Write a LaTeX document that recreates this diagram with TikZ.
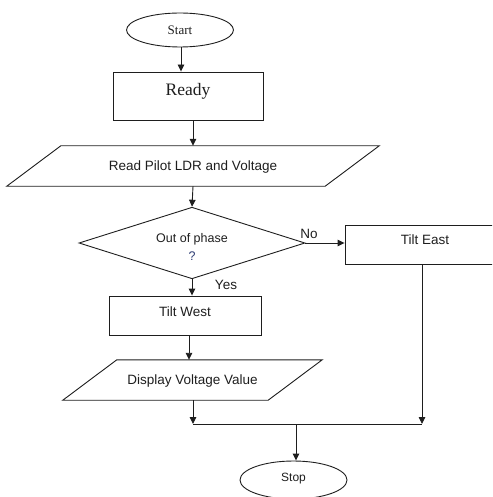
\documentclass[tikz,border=0pt]{standalone}
\usepackage{fontspec}
\setmainfont{Liberation Sans}
\newfontfamily\seriffont{Liberation Serif}
\usetikzlibrary{shapes.geometric,arrows.meta}
\definecolor{ink}{RGB}{30,30,30}
\definecolor{qblue}{RGB}{45,60,115}
\newcommand{\rb}[2]{\raisebox{#1}[0pt][0pt]{#2}}
\tikzset{
  line/.style={draw=ink,line width=0.9pt},
  arr/.style={line,-{Triangle[length=7pt,width=6.5pt]}},
  box/.style={draw=ink,line width=0.9pt,rectangle,inner sep=0pt,text=ink,font=\fontsize{13.5}{16}\selectfont},
  term/.style={draw=ink,line width=0.9pt,ellipse,inner sep=0pt,text=ink},
  pbox/.style={rectangle,inner sep=0pt,text=ink,font=\fontsize{13.5}{16}\selectfont},
  dec/.style={draw=ink,line width=0.9pt,diamond,inner sep=0pt,text=ink,font=\fontsize{12.5}{16}\selectfont},
  lbl/.style={inner sep=0pt,text=ink,font=\fontsize{13.5}{16}\selectfont},
}
\begin{document}
\begin{tikzpicture}[x=1pt,y=-1pt]
\useasboundingbox (0,0) rectangle (492,497);
\clip (0,0) rectangle (492,497);
% nodes
\node[term,minimum width=107pt,minimum height=34pt,font=\seriffont\fontsize{13}{15}\selectfont] (start) at (180,30) {\rb{-4.5pt}{Start}};
\node[box,minimum width=150pt,minimum height=48pt,font=\seriffont\fontsize{17.5}{20}\selectfont] (ready) at (188,96) {\rb{0pt}{Ready}};
\node[pbox,minimum width=318pt,minimum height=40pt] (read) at (193,166) {\rb{-4pt}{Read Pilot LDR and Voltage}};
\node[dec,minimum width=226pt,minimum height=66pt] (dec) at (192,243)
  {\rb{-8.5pt}{\begin{tabular}{@{}c@{}}Out of phase\\[1.5pt]{\color{qblue}?}\end{tabular}}};
\node[box,minimum width=160pt,minimum height=39pt] (east) at (425,244.5) {\rb{-0.4pt}{Tilt East}};
\node[box,minimum width=152pt,minimum height=39pt] (west) at (185,315.5) {\rb{-1.4pt}{Tilt West}};
\node[pbox,minimum width=205pt,minimum height=40pt] (disp) at (192.5,380) {\rb{-4.5pt}{Display Voltage Value}};
\node[term,minimum width=107pt,minimum height=38pt,font=\fontsize{12}{14}\selectfont] (stop) at (293.5,480) {\rb{-1.8pt}{Stop}};
\node[lbl] (no) at (309,234) {No};
\node[lbl] (yes) at (226,285) {Yes};
% parallelogram outlines
\draw[line] ([xshift=-27pt]read.south west) -- ([xshift=-27pt]read.south east)
  -- ([xshift=27pt]read.north east) -- ([xshift=27pt]read.north west) -- cycle;
\draw[line] ([xshift=-27pt]disp.south west) -- ([xshift=-27pt]disp.south east)
  -- ([xshift=27pt]disp.north east) -- ([xshift=27pt]disp.north west) -- cycle;
% merge points
\coordinate (m1) at (193,424);
\coordinate (m2) at (422,424);
% connectors
\draw[arr] ([xshift=1pt]start.south) -- ([xshift=1pt]start.south |- ready.north);
\draw[arr] (read.north |- ready.south) -- (read.north);
\draw[arr] (read.south) -- (dec.north);
\draw[arr] (dec.east) -- (dec.east -| east.west);
\draw[arr] (dec.south) -- (dec.south |- west.north);
\draw[arr] ([xshift=4pt]west.south) -- ([xshift=4pt]west.south |- disp.north);
\draw[arr] (disp.south -| m1) -- (m1);
\draw[arr] (east.south -| m2) -- (m2);
\draw[line] (m1) -- (m2);
\draw[arr] ([xshift=2.5pt]stop.north |- m1) -- ([xshift=2.5pt]stop.north);
\end{tikzpicture}
\end{document}
